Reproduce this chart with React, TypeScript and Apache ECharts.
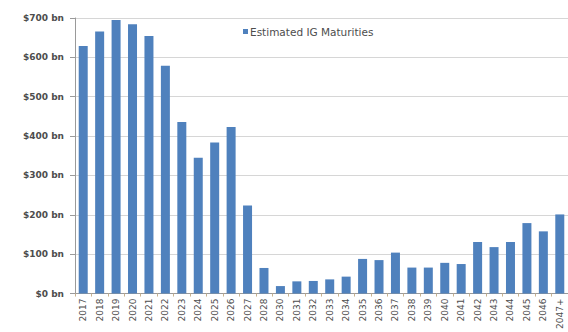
import React, { useEffect, useRef } from "react";
import * as echarts from "echarts";

// Maturity years (2029 is not reported separately)
const years: string[] = [
  "2017", "2018", "2019", "2020", "2021", "2022", "2023", "2024", "2025", "2026",
  "2027", "2028", "2030", "2031", "2032", "2033", "2034", "2035", "2036", "2037",
  "2038", "2039", "2040", "2041", "2042", "2043", "2044", "2045", "2046", "2047+",
];

// Estimated investment-grade maturities, $ billions
const maturities: number[] = [
  629, 666, 695, 684, 654, 579, 436, 345, 384, 423,
  224, 65, 19, 31, 32, 36, 43, 88, 85, 104,
  66, 66, 78, 75, 131, 118, 131, 179, 158, 201,
];

const seriesName = "Estimated IG Maturities";
const yTicks = { min: 0, max: 700, step: 100 };

const BAR_BLUE = "#4f81bd";
const AXIS_GREY = "#9a9a9a";
const GRID_GREY = "#d6d6d6";
const LABEL_GREY = "#4d4d4d";
const FONT = "DejaVu Sans, Verdana, sans-serif";

export default function App() {
  const ref = useRef<HTMLDivElement>(null);

  useEffect(() => {
    if (!ref.current) return;
    const chart = echarts.init(ref.current, null, { renderer: "svg" });
    chart.setOption({
      animation: false,
      backgroundColor: "#ffffff",
      grid: { left: 75, right: -4, top: 18, bottom: 35, containLabel: false },
      legend: {
        data: [seriesName],
        left: 243,
        top: 26,
        padding: 0,
        icon: "rect",
        itemWidth: 5,
        itemHeight: 5,
        textStyle: { fontFamily: FONT, fontSize: 10.5, color: LABEL_GREY, padding: [0, 0, 0, -3] },
      },
      xAxis: {
        type: "category",
        data: years,
        axisLine: { show: true, lineStyle: { color: AXIS_GREY, width: 1 } },
        axisTick: { show: true, alignWithLabel: false, length: 3, lineStyle: { color: "#c8b28e" } },
        axisLabel: {
          interval: 0,
          rotate: 90,
          margin: 5,
          fontFamily: FONT,
          fontSize: 9,
          color: LABEL_GREY,
        },
        splitLine: { show: false },
      },
      yAxis: {
        type: "value",
        min: yTicks.min,
        max: yTicks.max,
        interval: yTicks.step,
        axisLine: { show: true, lineStyle: { color: AXIS_GREY, width: 1 } },
        axisTick: { show: true, length: 5, lineStyle: { color: AXIS_GREY } },
        axisLabel: {
          margin: 11,
          fontFamily: FONT,
          fontSize: 9,
          fontWeight: "bold",
          color: LABEL_GREY,
          formatter: (v: number) => `$${v} bn`,
        },
        splitLine: { show: true, lineStyle: { color: GRID_GREY, width: 1 } },
      },
      series: [
        {
          name: seriesName,
          type: "bar",
          data: maturities,
          barWidth: 9,
          itemStyle: { color: BAR_BLUE },
        },
      ],
    });
    return () => chart.dispose();
  }, []);

  return (
    <div
      ref={ref}
      style={{ position: "fixed", left: 0, top: 0, width: 568, height: 332, overflow: "hidden", background: "#fff" }}
    />
  );
}
